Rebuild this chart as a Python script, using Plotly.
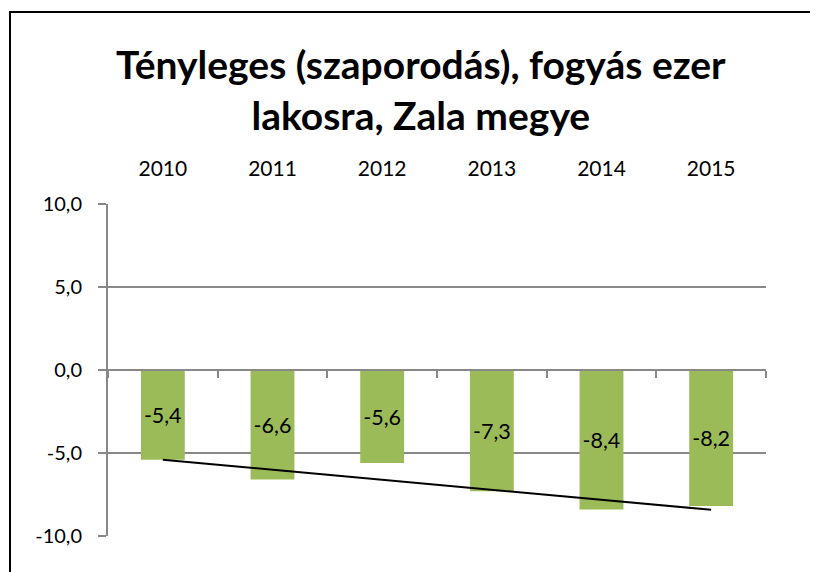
import numpy as np
import plotly.graph_objects as go

years = ["2010", "2011", "2012", "2013", "2014", "2015"]
values = [-5.4, -6.6, -5.6, -7.3, -8.4, -8.2]
y_ticks = [-10, -5, 0, 5, 10]
title_text = "Tényleges (szaporodás), fogyás ezer<br>lakosra, Zala megye"

xpos = list(range(len(years)))
labels = [f"{v:.1f}".replace(".", ",") for v in values]
y_ticktext = [f"{v:.1f}".replace(".", ",") for v in y_ticks]

# linear trendline from the data
slope, intercept = np.polyfit(xpos, values, 1)
trend_x = [xpos[0], xpos[-1]]
trend_y = [intercept + slope * x for x in trend_x]

FONT = "Lato"
GRID = "#888888"

fig = go.Figure()
fig.add_trace(go.Bar(
    x=xpos, y=values, width=0.4,
    marker=dict(color="#9BBB59", line=dict(width=0)),
    text=labels, textposition="inside", insidetextanchor="middle",
    textangle=0,
    textfont=dict(family=FONT, size=22, color="black"),
    hoverinfo="skip", showlegend=False,
))
fig.add_trace(go.Scatter(
    x=trend_x, y=trend_y, mode="lines",
    line=dict(color="black", width=2),
    hoverinfo="skip", showlegend=False,
))
# invisible trace to carry the secondary x-axis (zero line with boundary ticks)
fig.add_trace(go.Scatter(
    x=[xpos[0]], y=[0], xaxis="x2", mode="markers",
    marker=dict(opacity=0), hoverinfo="skip", showlegend=False,
))

boundaries = [x - 0.5 for x in xpos] + [xpos[-1] + 0.5]
ymin, ymax = y_ticks[0], y_ticks[-1]

# the page body has an 8px margin, so the figure starts at (8, 8)
fig.update_layout(
    width=810, height=564,
    margin=dict(l=100, r=52, t=196, b=36),
    paper_bgcolor="white", plot_bgcolor="white",
    font=dict(family=FONT, size=20, color="black"),
    separators=", ",
    xaxis=dict(
        range=[-0.5, len(years) - 0.5], side="top",
        tickmode="array", tickvals=xpos, ticktext=years,
        showgrid=False, zeroline=False, showline=False, ticks="",
        ticklabelstandoff=23,
        tickfont=dict(family=FONT, size=21, color="black"),
    ),
    xaxis2=dict(
        range=[-0.5, len(years) - 0.5], overlaying="x", anchor="free",
        position=(0 - ymin) / (ymax - ymin),
        tickmode="array", tickvals=boundaries, showticklabels=False,
        ticks="outside", ticklen=7, tickwidth=2, tickcolor=GRID,
        showline=True, linecolor=GRID, linewidth=2,
        showgrid=False, zeroline=False,
    ),
    yaxis=dict(
        range=[ymin, ymax], tickmode="array", tickvals=y_ticks,
        ticktext=y_ticktext,
        showgrid=True, gridcolor=GRID, gridwidth=2,
        zeroline=False, showline=True, linecolor=GRID, linewidth=2,
        ticks="outside", ticklen=8, tickwidth=2, tickcolor=GRID,
        ticklabelstandoff=12,
        tickfont=dict(family=FONT, size=20, color="black"),
    ),
    annotations=[dict(
        text=title_text, xref="paper", yref="paper",
        x=(421 - 108) / 658, y=(536 - 90) / 332,
        xanchor="center", yanchor="middle", showarrow=False,
        font=dict(family=FONT, size=39, color="black", weight="bold"),
    )],
    shapes=[dict(
        type="rect", xref="paper", yref="paper",
        x0=(10 - 108) / 658, x1=(811 - 108) / 658,
        y0=(536 - 600) / 332, y1=(536 - 12) / 332,
        line=dict(color="black", width=2), fillcolor="rgba(0,0,0,0)",
        layer="below",
    )],
)

fig.write_html("out.html")
